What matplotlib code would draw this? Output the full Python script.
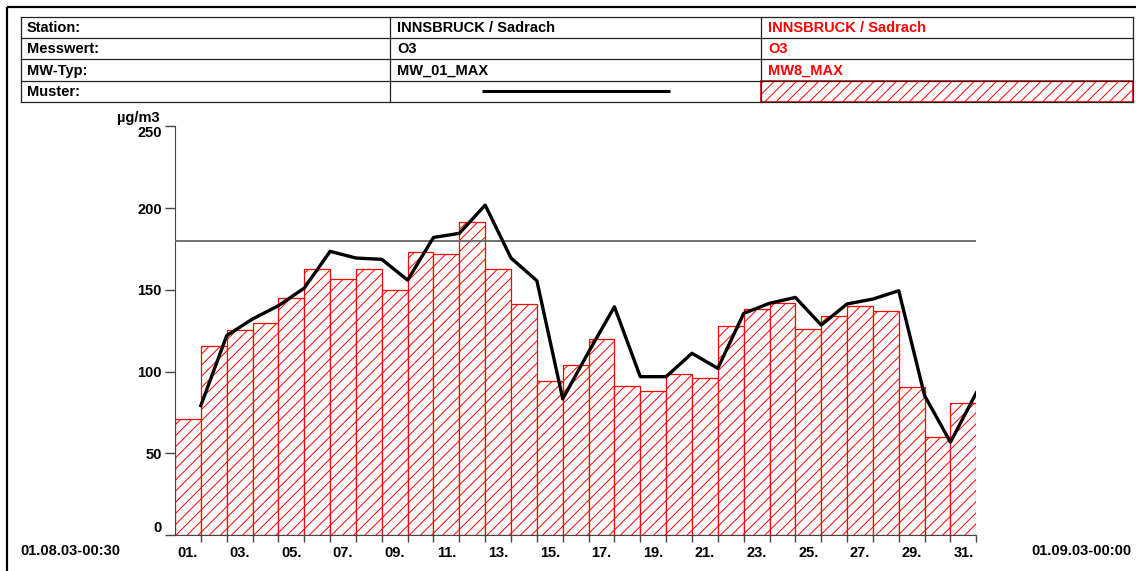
import numpy as np
import matplotlib.pyplot as plt
from matplotlib.patches import Rectangle

plt.rcParams['font.family'] = ['Liberation Sans', 'DejaVu Sans']
plt.rcParams['font.weight'] = 'bold'
plt.rcParams['hatch.linewidth'] = 0.7
plt.rcParams['hatch.color'] = 'red'

## data
days = np.arange(1, 32)
mw8_max = [71, 115.5, 125.3, 129.8, 145, 162.8, 156.6, 162.8, 150.1, 173.2,
           171.9, 191.5, 162.8, 141.4, 94.3, 104.3, 119.8, 91.2, 88.2, 98.6,
           96.1, 127.7, 138.3, 142, 126.1, 134.2, 139.9, 136.9, 90.4, 59.8, 80.9]
mw01_max = [79.2, 122, 132.2, 140.3, 151.1, 173.6, 169.5, 168.7, 156, 182.1,
            184.6, 201.9, 169.5, 155.6, 83.3, 112, 139.7, 96.9, 96.9, 111.2,
            102, 135.6, 141.8, 145.4, 128.5, 141.4, 144.4, 149.5, 85.3, 56.8, 87]
limit = 180
yticks = [0, 50, 100, 150, 200, 250]
day_labels = ['%02d.' % d for d in days[::2]]

row_names = ['Station:', 'Messwert:', 'MW-Typ:', 'Muster:']
col_black = ['INNSBRUCK / Sadrach', 'O3', 'MW_01_MAX', '']
col_red = ['INNSBRUCK / Sadrach', 'O3', 'MW8_MAX', '']
date_start = '01.08.03-00:30'
date_end = '01.09.03-00:00'
unit = 'µg/m3'

W, H = 1136, 571
fig = plt.figure(figsize=(W / 100, H / 100), dpi=100)

# header / frame drawn in pixel coords
bg = fig.add_axes([0, 0, 1, 1])
bg.set_xlim(0, W)
bg.set_ylim(H, 0)
bg.axis('off')

bg.plot([7, W], [7, 7], color='black', lw=1.6, solid_capstyle='butt')
bg.plot([7, 7], [7, H], color='black', lw=1.6, solid_capstyle='butt')

rows = [17.3, 38.3, 59.3, 81, 102.3]
cols = [20.7, 390, 761, 1132.5]
for r in rows:
    bg.plot([cols[0], cols[-1]], [r, r], color='#222222', lw=0.9)
for c in cols:
    bg.plot([c, c], [rows[0], rows[-1]], color='#222222', lw=0.9)

for i in range(4):
    yc = (rows[i] + rows[i + 1]) / 2 + 0.5
    bg.text(cols[0] + 6, yc, row_names[i], fontsize=10.5, va='center', ha='left')
    bg.text(cols[1] + 7, yc, col_black[i], fontsize=10.5, va='center', ha='left')
    bg.text(cols[2] + 7, yc, col_red[i], fontsize=10.5, va='center', ha='left', color='red')

bg.plot([482, 670], [91, 91], color='black', lw=2.2, solid_capstyle='butt')
bg.add_patch(Rectangle((cols[2], rows[3]), cols[3] - cols[2], rows[4] - rows[3],
                       facecolor='white', edgecolor='red', hatch='///', lw=1.2))

bg.text(20.7, 551, date_start, fontsize=10.5, va='center', ha='left')
bg.text(1131, 551, date_end, fontsize=10.5, va='center', ha='right')
bg.text(160, 118, unit, fontsize=10.5, va='center', ha='right')

# main chart
x0, x1 = 175, 976.3
y0, y1 = 535, 126.5
ax = fig.add_axes([x0 / W, (H - y0) / H, (x1 - x0) / W, (y0 - y1) / H])
ax.patch.set_alpha(0)

ax.bar(days, mw8_max, width=1, facecolor='white', edgecolor='red',
       hatch='///', lw=0.9, zorder=2)
ax.plot(days + 0.5, mw01_max, color='black', lw=2.4, zorder=4)
ax.hlines(limit, 0.5, 31.5, color='#666666', lw=1.3, zorder=3)

ax.set_xlim(0.5, 31.5)
ax.set_ylim(0, 250)

for s in ['top', 'right']:
    ax.spines[s].set_visible(False)
ax.spines['left'].set_color('#444444')
ax.spines['bottom'].set_color('#444444')

ax.set_yticks(yticks)
ax.set_yticklabels([str(v) for v in yticks])
ax.tick_params(axis='y', length=7.2, width=1, color='#444444', pad=2.4,
               labelsize=10.5)
ylabs = ax.get_yticklabels()
ylabs[0].set_va('bottom')
ylabs[-1].set_va('top')

ax.set_xticks(days + 0.5)
ax.set_xticklabels([])
ax.tick_params(axis='x', which='major', length=4.8, width=1, color='#444444')
ax.set_xticks(days[::2], minor=True)
ax.set_xticklabels(day_labels, minor=True)
ax.tick_params(axis='x', which='minor', length=0, pad=8, labelsize=10.5)

fig.savefig('out.png', dpi=100)
